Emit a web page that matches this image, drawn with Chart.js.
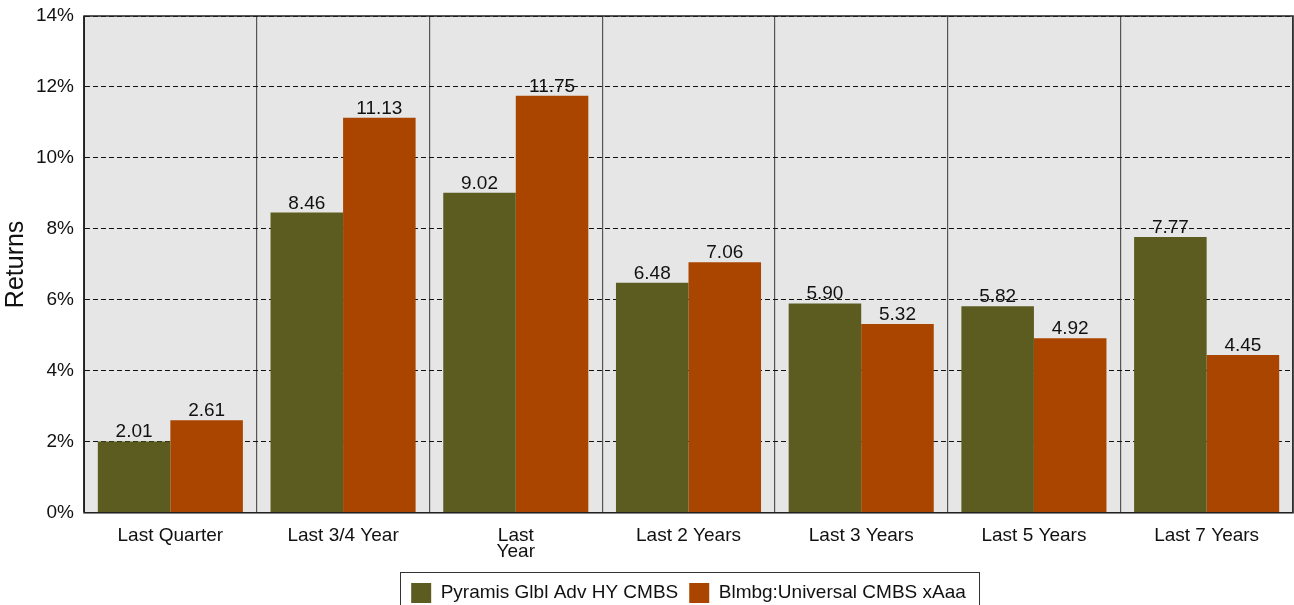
<!DOCTYPE html>
<html>
<head>
<meta charset="utf-8">
<script src="https://cdn.jsdelivr.net/npm/chart.js@4.4.0/dist/chart.umd.min.js"></script>
<style>
  html, body { margin: 0; padding: 0; background: #fff; }
  #wrap { width: 1294px; height: 605px; position: relative; }
</style>
</head>
<body>
<div id="wrap"><canvas id="myChart"></canvas></div>
<script>
// Data
const categories = ['Last Quarter', 'Last 3/4 Year', ['Last', 'Year'], 'Last 2 Years', 'Last 3 Years', 'Last 5 Years', 'Last 7 Years'];
const pyramisReturns = [2.01, 8.46, 9.02, 6.48, 5.90, 5.82, 7.77];
const blmbgReturns = [2.61, 11.13, 11.75, 7.06, 5.32, 4.92, 4.45];
const seriesNames = ['Pyramis Glbl Adv HY CMBS', 'Blmbg:Universal CMBS xAaa'];
const yMin = 0;
const yMax = 14;
const yStep = 2;

const FONT = 'Arial, "Liberation Sans", sans-serif';

// Gray plot background
const plotBackground = {
    id: 'plotBackground',
    beforeDraw(chart) {
        const { ctx, chartArea: a } = chart;
        ctx.save();
        ctx.fillStyle = '#e6e6e6';
        ctx.fillRect(a.left, a.top, a.right - a.left, a.bottom - a.top);
        ctx.restore();
    }
};

// Black frame round the plot
const plotBorder = {
    id: 'plotBorder',
    afterDatasetsDraw(chart) {
        const { ctx, chartArea: a } = chart;
        ctx.save();
        ctx.strokeStyle = '#222';
        ctx.lineWidth = 1.5;
        ctx.strokeRect(a.left, a.top, a.right - a.left, a.bottom - a.top);
        ctx.restore();
    }
};

// Value labels above the bars
const barLabels = {
    id: 'barLabels',
    afterDatasetsDraw(chart) {
        const { ctx } = chart;
        ctx.save();
        ctx.font = '19px ' + FONT;
        ctx.fillStyle = '#111';
        ctx.textAlign = 'center';
        ctx.textBaseline = 'alphabetic';
        chart.data.datasets.forEach((ds, i) => {
            chart.getDatasetMeta(i).data.forEach((bar, j) => {
                ctx.fillText(ds.data[j].toFixed(2), bar.x, bar.y - 4);
            });
        });
        ctx.restore();
    }
};

// Box round the legend
const legendBox = {
    id: 'legendBox',
    afterDraw(chart) {
        const boxes = chart.legend.legendHitBoxes;
        if (!boxes || !boxes.length) return;
        const left = Math.min(...boxes.map(b => b.left)) - 11;
        const right = Math.max(...boxes.map(b => b.left + b.width)) + 13;
        const top = Math.min(...boxes.map(b => b.top)) - 11;
        const bottom = Math.max(...boxes.map(b => b.top + b.height)) + 9;
        const { ctx } = chart;
        ctx.save();
        ctx.strokeStyle = '#333';
        ctx.lineWidth = 1;
        ctx.strokeRect(Math.round(left) + 0.5, Math.round(top) + 0.5, Math.round(right - left), Math.round(bottom - top));
        ctx.restore();
    }
};

const ctx = document.getElementById('myChart').getContext('2d');
const myChart = new Chart(ctx, {
    type: 'bar',
    data: {
        labels: categories,
        datasets: [
            {
                label: seriesNames[0],
                data: pyramisReturns,
                backgroundColor: '#5c5c20',
                categoryPercentage: 0.84,
                barPercentage: 1.0
            },
            {
                label: seriesNames[1],
                data: blmbgReturns,
                backgroundColor: '#aa4500',
                categoryPercentage: 0.84,
                barPercentage: 1.0
            }
        ]
    },
    options: {
        responsive: true,
        maintainAspectRatio: false,
        animation: false,
        layout: {
            padding: { top: 0, right: 1, left: 0, bottom: -8 }
        },
        plugins: {
            legend: {
                position: 'bottom',
                fullSize: false,
                title: {
                    display: true,
                    text: '',
                    font: { size: 1 },
                    padding: { top: 0, bottom: 1 }
                },
                labels: {
                    boxWidth: 20,
                    boxHeight: 20,
                    padding: 11,
                    color: '#111',
                    font: { size: 19, family: FONT }
                }
            },
            tooltip: { enabled: false }
        },
        scales: {
            x: {
                offset: true,
                afterFit(scale) {
                    scale.height = 57;
                },
                grid: {
                    offset: true,
                    color: '#555',
                    lineWidth: 1.2,
                    drawTicks: false
                },
                border: { color: '#222' },
                ticks: {
                    color: '#111',
                    padding: 15,
                    maxRotation: 0,
                    autoSkip: false,
                    font: { size: 19, family: FONT, lineHeight: 0.84 }
                }
            },
            y: {
                min: yMin,
                max: yMax,
                afterFit(scale) {
                    scale.width = 84;
                    scale.paddingTop = 16;
                    scale.paddingBottom = 0;
                },
                grid: {
                    color: '#111',
                    lineWidth: 1,
                    drawTicks: false
                },
                border: { color: '#222', dash: [5, 3] },
                ticks: {
                    stepSize: yStep,
                    color: '#111',
                    padding: 10,
                    font: { size: 19, family: FONT },
                    callback: value => value + '%'
                },
                title: {
                    display: true,
                    text: 'Returns',
                    color: '#111',
                    padding: { top: 1, bottom: 0 },
                    font: { size: 25, family: FONT }
                }
            }
        }
    },
    plugins: [plotBackground, plotBorder, barLabels, legendBox]
});
</script>
</body>
</html>
